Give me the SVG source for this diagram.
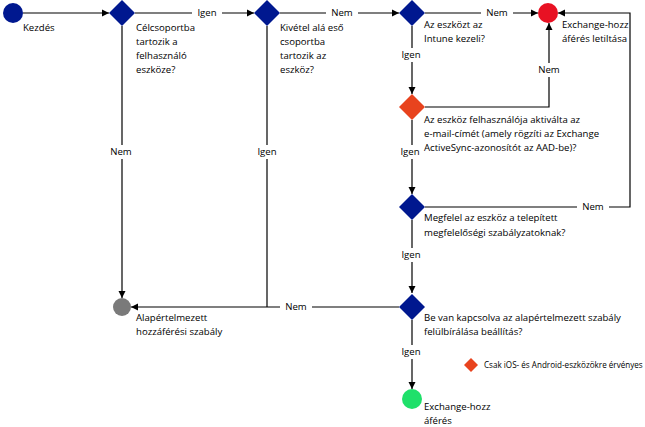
<svg xmlns="http://www.w3.org/2000/svg" width="645" height="427" viewBox="0 0 645 427">
<style>
text{font-family:"Open Sans","Liberation Sans",sans-serif;font-size:9.6px;fill:#000}
.lbl{text-anchor:middle}
.ln{fill:none;stroke:#000;stroke-width:1.2}
.bg{fill:#fff}
.blue{fill:#00188F}
.orange{fill:#E8431E}
.small{font-size:8.1px}
</style>
<defs>
<marker id="ah" markerWidth="8" markerHeight="8" refX="7" refY="4" orient="auto" markerUnits="userSpaceOnUse">
<path d="M0,0.5 L7,4 L0,7.5 Z" fill="#000"/>
</marker>
</defs>
<rect width="645" height="427" fill="#fff"/>
<g id="connectors">
<path class="ln" d="M23,13 H109" marker-end="url(#ah)"/>
<path class="ln" d="M135,13 H254" marker-end="url(#ah)"/>
<path class="ln" d="M280,13 H399" marker-end="url(#ah)"/>
<path class="ln" d="M425,13 H538" marker-end="url(#ah)"/>
<path class="ln" d="M425,207 H630 V13 H558" marker-end="url(#ah)"/>
<path class="ln" d="M425,107 H549 V23" marker-end="url(#ah)"/>
<path class="ln" d="M412,26 V94" marker-end="url(#ah)"/>
<path class="ln" d="M412,120 V194" marker-end="url(#ah)"/>
<path class="ln" d="M412,220 V293" marker-end="url(#ah)"/>
<path class="ln" d="M412,320 V389" marker-end="url(#ah)"/>
<path class="ln" d="M399,307 H131" marker-end="url(#ah)"/>
<path class="ln" d="M267,26 V307"/>
<path class="ln" d="M122,26 V298" marker-end="url(#ah)"/>
<rect class="bg" x="192" y="6" width="30" height="14"/>
<text class="lbl" x="207" y="16">Igen</text>
<rect class="bg" x="326" y="6" width="32" height="14"/>
<text class="lbl" x="342" y="16">Nem</text>
<rect class="bg" x="481" y="6" width="32" height="14"/>
<text class="lbl" x="497" y="16">Nem</text>
<rect class="bg" x="577" y="200" width="32" height="14"/>
<text class="lbl" x="593" y="210">Nem</text>
<rect class="bg" x="533" y="63" width="32" height="14"/>
<text class="lbl" x="549" y="73">Nem</text>
<rect class="bg" x="397" y="48" width="30" height="14"/>
<text class="lbl" x="411" y="58">Igen</text>
<rect class="bg" x="397" y="145" width="30" height="14"/>
<text class="lbl" x="410" y="155">Igen</text>
<rect class="bg" x="397" y="248" width="30" height="14"/>
<text class="lbl" x="411" y="258">Igen</text>
<rect class="bg" x="397" y="345" width="30" height="14"/>
<text class="lbl" x="411" y="355">Igen</text>
<rect class="bg" x="280" y="300" width="32" height="14"/>
<text class="lbl" x="296" y="310">Nem</text>
<rect class="bg" x="252" y="145" width="30" height="14"/>
<text class="lbl" x="267" y="155">Igen</text>
<rect class="bg" x="106" y="145" width="32" height="14"/>
<text class="lbl" x="121" y="155">Nem</text>
</g>
<g id="start">
<circle cx="13" cy="13" r="10" class="blue"/>
<text x="23" y="31">Kezdés</text>
</g>
<g id="d1">
<path d="M122,0 L135,13 L122,26 L109,13 Z" class="blue"/>
<text x="136" y="31">Célcsoportba</text>
<text x="136" y="45">tartozik a</text>
<text x="136" y="59">felhasználó</text>
<text x="136" y="73">eszköze?</text>
</g>
<g id="d2">
<path d="M267,0 L280,13 L267,26 L254,13 Z" class="blue"/>
<text x="280" y="31">Kivétel alá eső</text>
<text x="280" y="45">csoportba</text>
<text x="280" y="59">tartozik az</text>
<text x="280" y="73">eszköz?</text>
</g>
<g id="d3">
<path d="M412,0 L425,13 L412,26 L399,13 Z" class="blue"/>
<text x="424" y="28">Az eszközt az</text>
<text x="424" y="42">Intune kezeli?</text>
</g>
<g id="block">
<circle cx="548" cy="13" r="10" fill="#E81123"/>
<text x="562" y="28">Exchange-hozz</text>
<text x="562" y="42">áférés letiltása</text>
</g>
<g id="d-orange">
<path d="M412,94 L425,107 L412,120 L399,107 Z" class="orange"/>
<text x="424" y="123">Az eszköz felhasználója aktiválta az</text>
<text x="424" y="137">e-mail-címét (amely rögzíti az Exchange</text>
<text x="424" y="151">ActiveSync-azonosítót az AAD-be)?</text>
</g>
<g id="d4">
<path d="M412,194 L425,207 L412,220 L399,207 Z" class="blue"/>
<text x="424" y="221">Megfelel az eszköz a telepített</text>
<text x="424" y="236">megfelelőségi szabályzatoknak?</text>
</g>
<g id="d5">
<path d="M412,294 L425,307 L412,320 L399,307 Z" class="blue"/>
<text x="424" y="321">Be van kapcsolva az alapértelmezett szabály</text>
<text x="424" y="335">felülbírálása beállítás?</text>
</g>
<g id="default">
<circle cx="122" cy="307" r="9" fill="#7A7A7A"/>
<text x="136" y="321">Alapértelmezett</text>
<text x="136" y="335">hozzáférési szabály</text>
</g>
<g id="allow">
<circle cx="412" cy="399" r="10" fill="#1FE06A"/>
<text x="424" y="410">Exchange-hozz</text>
<text x="424" y="424">áférés</text>
</g>
<g id="legend">
<path d="M471,358 L478,365 L471,372 L464,365 Z" class="orange"/>
<text x="484" y="368" class="small">Csak iOS- és Android-eszközökre érvényes</text>
</g>
</svg>
